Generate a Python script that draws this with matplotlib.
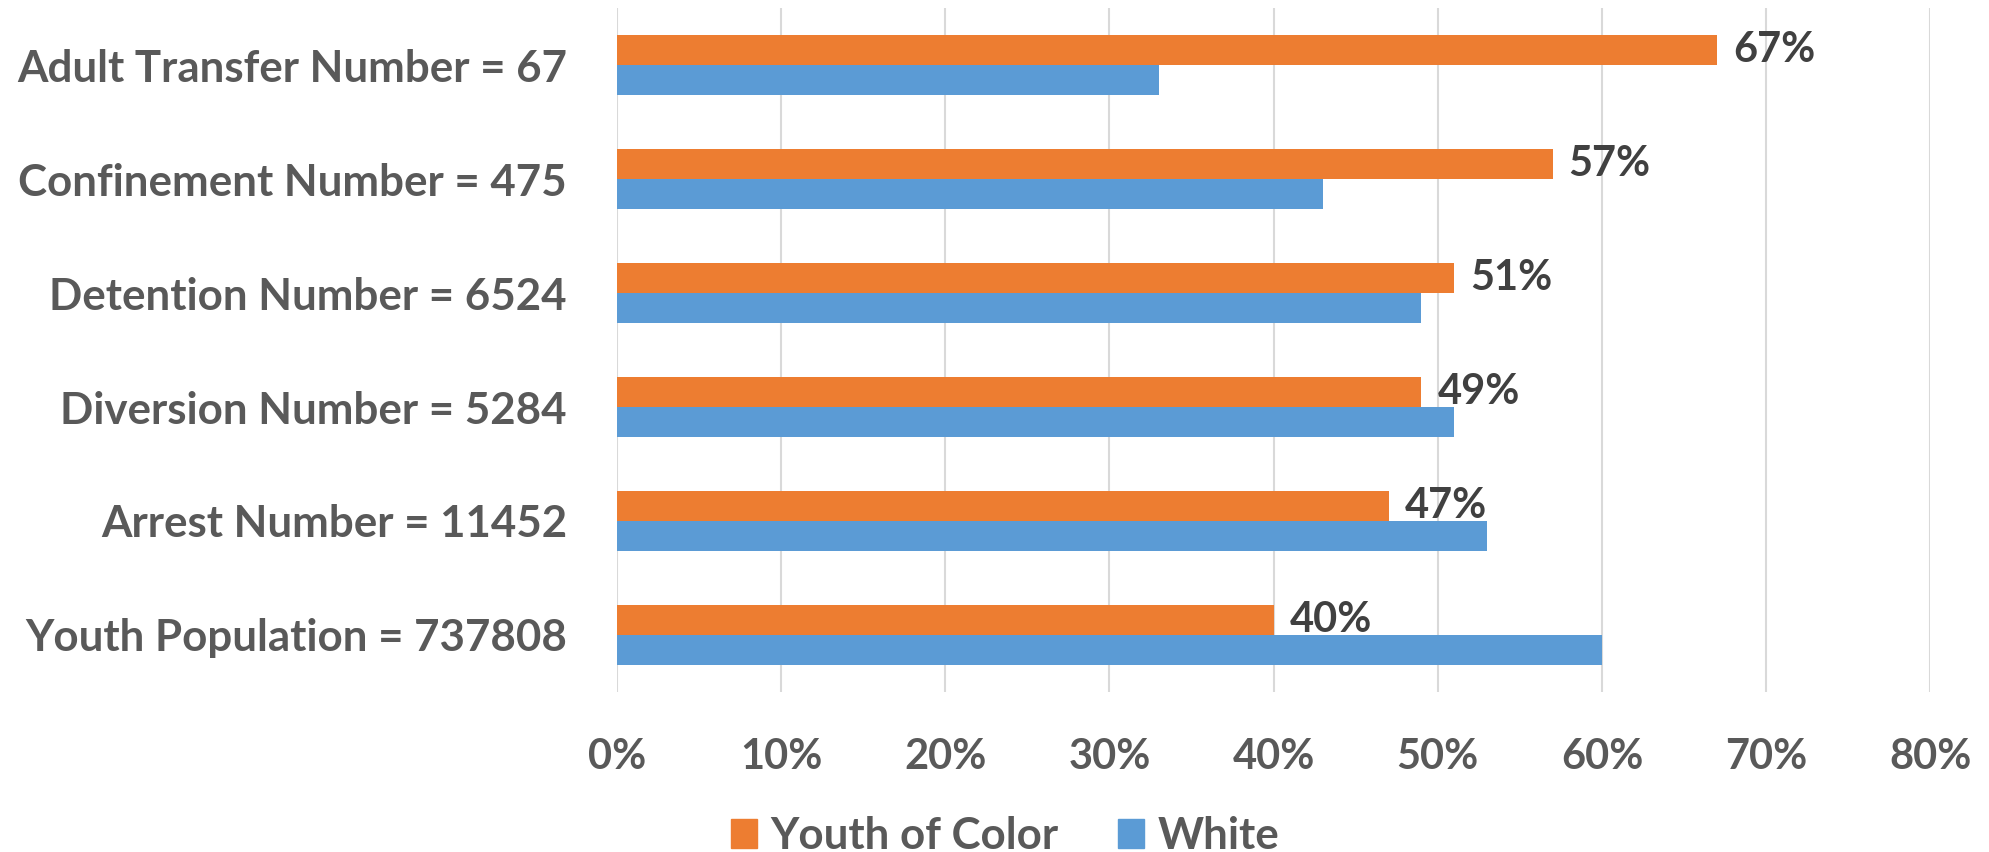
import numpy as np
import matplotlib.pyplot as plt
from matplotlib.patches import Patch
from matplotlib.ticker import FuncFormatter

categories = [
    "Adult Transfer Number = 67",
    "Confinement Number = 475",
    "Detention Number = 6524",
    "Diversion Number = 5284",
    "Arrest Number = 11452",
    "Youth Population = 737808",
]
youth_of_color = [67, 57, 51, 49, 47, 40]
white = [33, 43, 49, 51, 53, 60]
x_ticks = [0, 10, 20, 30, 40, 50, 60, 70, 80]


def main():
    plt.rcParams["font.family"] = ["Lato", "DejaVu Sans"]
    orange = "#ED7D31"
    blue = "#5B9BD5"
    text_gray = "#595959"
    fs = 30
    fs_label = 31.6

    fig = plt.figure(figsize=(19.9, 8.52), dpi=100)
    ax = fig.add_axes([0.310, 0.1878, 0.660, 0.8028])

    y = np.arange(len(categories))
    h = 0.263
    ax.barh(y - h / 2, youth_of_color, height=h, color=orange, zorder=2)
    ax.barh(y + h / 2, white, height=h, color=blue, zorder=2)

    for yi, v in zip(y, youth_of_color):
        ax.annotate(
            f"{v}%",
            xy=(v, yi - h / 2),
            xytext=(11.5, 0),
            textcoords="offset points",
            va="center",
            ha="left",
            fontsize=fs,
            fontweight="bold",
            color="#404040",
            zorder=3,
        )

    ax.set_xlim(0, 80)
    ax.set_ylim(len(categories) - 0.5, -0.5)
    ax.set_xticks(x_ticks)
    ax.xaxis.set_major_formatter(FuncFormatter(lambda v, p: f"{v:.0f}%"))
    ax.set_yticks(y)
    ax.set_yticklabels(categories)
    ax.tick_params(axis="x", length=0, pad=33, labelsize=fs, labelcolor=text_gray)
    ax.tick_params(axis="y", length=0, pad=36, labelsize=fs_label, labelcolor=text_gray)
    for lab in ax.get_xticklabels() + ax.get_yticklabels():
        lab.set_fontweight("bold")

    ax.grid(axis="x", color="#D9D9D9", linewidth=1.5, zorder=0)
    ax.set_axisbelow(True)
    for s in ax.spines.values():
        s.set_visible(False)

    handles = [Patch(color=orange, label="Youth of Color"), Patch(color=blue, label="White")]
    leg = fig.legend(
        handles=handles,
        loc="center",
        bbox_to_anchor=(0.505, 0.019),
        ncol=2,
        frameon=False,
        fontsize=fs_label,
        handlelength=0.6,
        handleheight=0.62,
        handletextpad=0.3,
        columnspacing=1.35,
        borderpad=0,
    )
    for t in leg.get_texts():
        t.set_color(text_gray)
        t.set_fontweight("bold")

    fig.savefig("out.png", dpi=100)


if __name__ == "__main__":
    main()
